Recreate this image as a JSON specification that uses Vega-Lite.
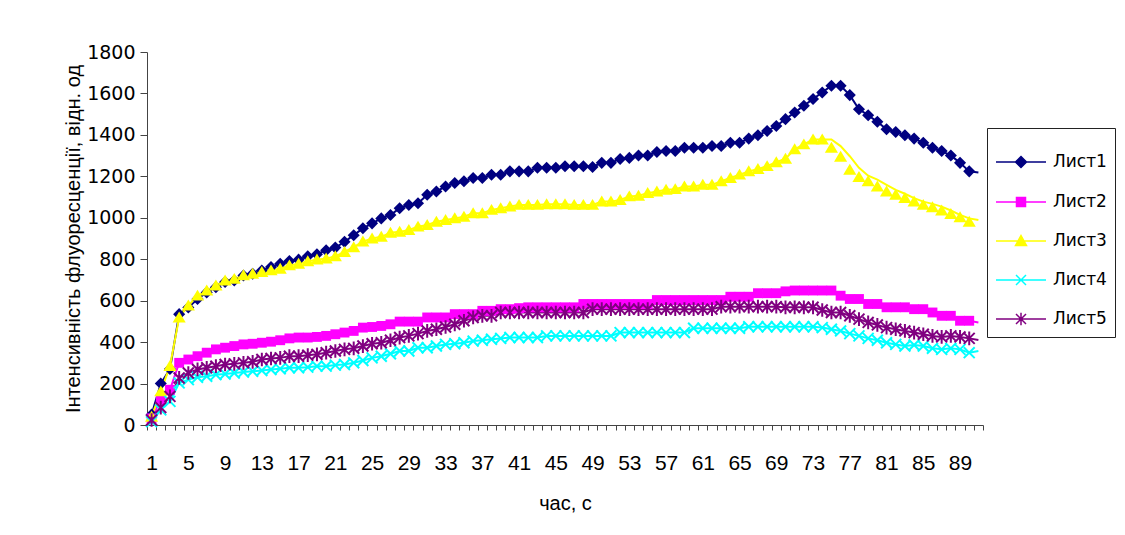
{
  "$schema": "https://vega.github.io/schema/vega-lite/v6.json",
  "width": 836,
  "height": 373,
  "autosize": {"type": "none"},
  "padding": {"left": 147, "top": 52, "right": 142, "bottom": 110},
  "background": "white",
  "config": {"view": {"stroke": null}, "font": "Liberation Sans"},
  "data": {"values": [
    {"t":1,"Лист1":50,"Лист2":32,"Лист3":40,"Лист4":16,"Лист5":24,"L3line":40},
    {"t":2,"Лист1":200,"Лист2":122,"Лист3":162,"Лист4":73,"Лист5":84,"L3line":162},
    {"t":3,"Лист1":270,"Лист2":170,"Лист3":284,"Лист4":114,"Лист5":138,"L3line":284},
    {"t":4,"Лист1":535,"Лист2":300,"Лист3":519,"Лист4":203,"Лист5":227,"L3line":519},
    {"t":5,"Лист1":567,"Лист2":316,"Лист3":576,"Лист4":219,"Лист5":251,"L3line":576},
    {"t":6,"Лист1":608,"Лист2":332,"Лист3":624,"Лист4":230,"Лист5":268,"L3line":624},
    {"t":7,"Лист1":640,"Лист2":349,"Лист3":649,"Лист4":235,"Лист5":276,"L3line":649},
    {"t":8,"Лист1":665,"Лист2":365,"Лист3":673,"Лист4":243,"Лист5":284,"L3line":673},
    {"t":9,"Лист1":690,"Лист2":373,"Лист3":697,"Лист4":246,"Лист5":292,"L3line":697},
    {"t":10,"Лист1":697,"Лист2":381,"Лист3":705,"Лист4":251,"Лист5":295,"L3line":705},
    {"t":11,"Лист1":721,"Лист2":389,"Лист3":722,"Лист4":256,"Лист5":300,"L3line":722},
    {"t":12,"Лист1":730,"Лист2":392,"Лист3":730,"Лист4":259,"Лист5":305,"L3line":730},
    {"t":13,"Лист1":746,"Лист2":397,"Лист3":738,"Лист4":263,"Лист5":316,"L3line":738},
    {"t":14,"Лист1":762,"Лист2":402,"Лист3":746,"Лист4":268,"Лист5":321,"L3line":746},
    {"t":15,"Лист1":778,"Лист2":409,"Лист3":754,"Лист4":271,"Лист5":324,"L3line":754},
    {"t":16,"Лист1":791,"Лист2":418,"Лист3":770,"Лист4":276,"Лист5":332,"L3line":770},
    {"t":17,"Лист1":798,"Лист2":422,"Лист3":778,"Лист4":276,"Лист5":332,"L3line":778},
    {"t":18,"Лист1":814,"Лист2":422,"Лист3":790,"Лист4":279,"Лист5":337,"L3line":790},
    {"t":19,"Лист1":824,"Лист2":425,"Лист3":798,"Лист4":284,"Лист5":341,"L3line":798},
    {"t":20,"Лист1":843,"Лист2":430,"Лист3":803,"Лист4":284,"Лист5":349,"L3line":803},
    {"t":21,"Лист1":856,"Лист2":438,"Лист3":814,"Лист4":289,"Лист5":357,"L3line":814},
    {"t":22,"Лист1":884,"Лист2":446,"Лист3":835,"Лист4":292,"Лист5":365,"L3line":835},
    {"t":23,"Лист1":916,"Лист2":454,"Лист3":858,"Лист4":300,"Лист5":370,"L3line":858},
    {"t":24,"Лист1":949,"Лист2":470,"Лист3":885,"Лист4":311,"Лист5":381,"L3line":885},
    {"t":25,"Лист1":973,"Лист2":473,"Лист3":900,"Лист4":324,"Лист5":392,"L3line":900},
    {"t":26,"Лист1":997,"Лист2":478,"Лист3":908,"Лист4":332,"Лист5":397,"L3line":908},
    {"t":27,"Лист1":1013,"Лист2":486,"Лист3":928,"Лист4":344,"Лист5":409,"L3line":928},
    {"t":28,"Лист1":1046,"Лист2":499,"Лист3":932,"Лист4":357,"Лист5":422,"L3line":932},
    {"t":29,"Лист1":1062,"Лист2":499,"Лист3":941,"Лист4":357,"Лист5":430,"L3line":941},
    {"t":30,"Лист1":1070,"Лист2":499,"Лист3":957,"Лист4":373,"Лист5":441,"L3line":957},
    {"t":31,"Лист1":1111,"Лист2":519,"Лист3":965,"Лист4":373,"Лист5":454,"L3line":965},
    {"t":32,"Лист1":1127,"Лист2":519,"Лист3":981,"Лист4":381,"Лист5":462,"L3line":981},
    {"t":33,"Лист1":1151,"Лист2":519,"Лист3":989,"Лист4":389,"Лист5":473,"L3line":989},
    {"t":34,"Лист1":1168,"Лист2":535,"Лист3":997,"Лист4":392,"Лист5":486,"L3line":997},
    {"t":35,"Лист1":1176,"Лист2":535,"Лист3":1005,"Лист4":397,"Лист5":503,"L3line":1005},
    {"t":36,"Лист1":1192,"Лист2":535,"Лист3":1022,"Лист4":405,"Лист5":519,"L3line":1022},
    {"t":37,"Лист1":1192,"Лист2":551,"Лист3":1022,"Лист4":409,"Лист5":527,"L3line":1022},
    {"t":38,"Лист1":1208,"Лист2":551,"Лист3":1038,"Лист4":414,"Лист5":527,"L3line":1038},
    {"t":39,"Лист1":1208,"Лист2":559,"Лист3":1046,"Лист4":418,"Лист5":543,"L3line":1046},
    {"t":40,"Лист1":1224,"Лист2":559,"Лист3":1054,"Лист4":422,"Лист5":543,"L3line":1054},
    {"t":41,"Лист1":1224,"Лист2":564,"Лист3":1062,"Лист4":422,"Лист5":543,"L3line":1062},
    {"t":42,"Лист1":1224,"Лист2":568,"Лист3":1062,"Лист4":422,"Лист5":543,"L3line":1062},
    {"t":43,"Лист1":1241,"Лист2":568,"Лист3":1062,"Лист4":422,"Лист5":543,"L3line":1062},
    {"t":44,"Лист1":1241,"Лист2":568,"Лист3":1065,"Лист4":430,"Лист5":543,"L3line":1065},
    {"t":45,"Лист1":1241,"Лист2":568,"Лист3":1065,"Лист4":430,"Лист5":543,"L3line":1065},
    {"t":46,"Лист1":1249,"Лист2":568,"Лист3":1065,"Лист4":430,"Лист5":543,"L3line":1065},
    {"t":47,"Лист1":1249,"Лист2":568,"Лист3":1062,"Лист4":430,"Лист5":543,"L3line":1062},
    {"t":48,"Лист1":1249,"Лист2":584,"Лист3":1062,"Лист4":430,"Лист5":543,"L3line":1062},
    {"t":49,"Лист1":1245,"Лист2":584,"Лист3":1062,"Лист4":430,"Лист5":559,"L3line":1062},
    {"t":50,"Лист1":1265,"Лист2":584,"Лист3":1078,"Лист4":430,"Лист5":559,"L3line":1078},
    {"t":51,"Лист1":1265,"Лист2":584,"Лист3":1078,"Лист4":430,"Лист5":559,"L3line":1078},
    {"t":52,"Лист1":1284,"Лист2":584,"Лист3":1086,"Лист4":446,"Лист5":559,"L3line":1086},
    {"t":53,"Лист1":1289,"Лист2":584,"Лист3":1103,"Лист4":446,"Лист5":559,"L3line":1103},
    {"t":54,"Лист1":1301,"Лист2":584,"Лист3":1106,"Лист4":446,"Лист5":559,"L3line":1106},
    {"t":55,"Лист1":1301,"Лист2":584,"Лист3":1119,"Лист4":446,"Лист5":559,"L3line":1119},
    {"t":56,"Лист1":1317,"Лист2":603,"Лист3":1127,"Лист4":446,"Лист5":559,"L3line":1127},
    {"t":57,"Лист1":1322,"Лист2":603,"Лист3":1135,"Лист4":446,"Лист5":559,"L3line":1135},
    {"t":58,"Лист1":1322,"Лист2":603,"Лист3":1138,"Лист4":446,"Лист5":559,"L3line":1138},
    {"t":59,"Лист1":1338,"Лист2":603,"Лист3":1151,"Лист4":446,"Лист5":559,"L3line":1151},
    {"t":60,"Лист1":1338,"Лист2":603,"Лист3":1151,"Лист4":467,"Лист5":559,"L3line":1151},
    {"t":61,"Лист1":1338,"Лист2":603,"Лист3":1159,"Лист4":467,"Лист5":559,"L3line":1159},
    {"t":62,"Лист1":1346,"Лист2":603,"Лист3":1159,"Лист4":467,"Лист5":559,"L3line":1159},
    {"t":63,"Лист1":1346,"Лист2":603,"Лист3":1176,"Лист4":467,"Лист5":571,"L3line":1176},
    {"t":64,"Лист1":1362,"Лист2":619,"Лист3":1192,"Лист4":467,"Лист5":571,"L3line":1192},
    {"t":65,"Лист1":1362,"Лист2":619,"Лист3":1208,"Лист4":467,"Лист5":571,"L3line":1208},
    {"t":66,"Лист1":1382,"Лист2":619,"Лист3":1224,"Лист4":474,"Лист5":571,"L3line":1224},
    {"t":67,"Лист1":1398,"Лист2":636,"Лист3":1235,"Лист4":474,"Лист5":571,"L3line":1235},
    {"t":68,"Лист1":1419,"Лист2":636,"Лист3":1249,"Лист4":474,"Лист5":571,"L3line":1249},
    {"t":69,"Лист1":1443,"Лист2":636,"Лист3":1268,"Лист4":474,"Лист5":571,"L3line":1268},
    {"t":70,"Лист1":1476,"Лист2":645,"Лист3":1285,"Лист4":474,"Лист5":568,"L3line":1285},
    {"t":71,"Лист1":1508,"Лист2":649,"Лист3":1330,"Лист4":474,"Лист5":568,"L3line":1330},
    {"t":72,"Лист1":1541,"Лист2":649,"Лист3":1354,"Лист4":474,"Лист5":568,"L3line":1354},
    {"t":73,"Лист1":1573,"Лист2":649,"Лист3":1378,"Лист4":474,"Лист5":568,"L3line":1378},
    {"t":74,"Лист1":1605,"Лист2":649,"Лист3":1378,"Лист4":470,"Лист5":555,"L3line":1378},
    {"t":75,"Лист1":1637,"Лист2":649,"Лист3":1338,"Лист4":462,"Лист5":543,"L3line":1378},
    {"t":76,"Лист1":1637,"Лист2":624,"Лист3":1294,"Лист4":454,"Лист5":543,"L3line":1346},
    {"t":77,"Лист1":1592,"Лист2":608,"Лист3":1232,"Лист4":441,"Лист5":527,"L3line":1297},
    {"t":78,"Лист1":1524,"Лист2":608,"Лист3":1197,"Лист4":430,"Лист5":511,"L3line":1241},
    {"t":79,"Лист1":1495,"Лист2":584,"Лист3":1176,"Лист4":418,"Лист5":495,"L3line":1203},
    {"t":80,"Лист1":1463,"Лист2":584,"Лист3":1151,"Лист4":409,"Лист5":483,"L3line":1184},
    {"t":81,"Лист1":1427,"Лист2":568,"Лист3":1127,"Лист4":397,"Лист5":470,"L3line":1159},
    {"t":82,"Лист1":1414,"Лист2":568,"Лист3":1111,"Лист4":389,"Лист5":462,"L3line":1135},
    {"t":83,"Лист1":1398,"Лист2":568,"Лист3":1095,"Лист4":381,"Лист5":454,"L3line":1116},
    {"t":84,"Лист1":1382,"Лист2":559,"Лист3":1078,"Лист4":386,"Лист5":446,"L3line":1095},
    {"t":85,"Лист1":1362,"Лист2":559,"Лист3":1062,"Лист4":381,"Лист5":438,"L3line":1078},
    {"t":86,"Лист1":1338,"Лист2":543,"Лист3":1051,"Лист4":370,"Лист5":430,"L3line":1067},
    {"t":87,"Лист1":1322,"Лист2":527,"Лист3":1035,"Лист4":365,"Лист5":425,"L3line":1054},
    {"t":88,"Лист1":1301,"Лист2":527,"Лист3":1018,"Лист4":370,"Лист5":430,"L3line":1035},
    {"t":89,"Лист1":1265,"Лист2":503,"Лист3":1002,"Лист4":365,"Лист5":425,"L3line":1014},
    {"t":90,"Лист1":1224,"Лист2":503,"Лист3":981,"Лист4":349,"Лист5":418,"L3line":997},
    {"t":91,"Лист1":1219,"Лист2":495,"Лист3":989,"Лист4":357,"Лист5":410,"L3line":989}
  ]},
  "encoding": {
    "x": {
      "field": "t", "type": "quantitative",
      "scale": {"domain": [0.5, 91.5], "nice": false, "zero": false},
      "axis": {
        "values": [0.5,1.5,2.5,3.5,4.5,5.5,6.5,7.5,8.5,9.5,10.5,11.5,12.5,13.5,14.5,15.5,16.5,17.5,18.5,19.5,20.5,21.5,22.5,23.5,24.5,25.5,26.5,27.5,28.5,29.5,30.5,31.5,32.5,33.5,34.5,35.5,36.5,37.5,38.5,39.5,40.5,41.5,42.5,43.5,44.5,45.5,46.5,47.5,48.5,49.5,50.5,51.5,52.5,53.5,54.5,55.5,56.5,57.5,58.5,59.5,60.5,61.5,62.5,63.5,64.5,65.5,66.5,67.5,68.5,69.5,70.5,71.5,72.5,73.5,74.5,75.5,76.5,77.5,78.5,79.5,80.5,81.5,82.5,83.5,84.5,85.5,86.5,87.5,88.5,89.5,90.5,91.5,1,5,9,13,17,21,25,29,33,37,41,45,49,53,57,61,65,69,73,77,81,85,89],
        "labelExpr": "datum.value % 4 === 1 ? format(datum.value, 'd') : ''",
        "tickOpacity": {"condition": {"test": "datum.value % 1 === 0", "value": 0}, "value": 1},
        "labelOverlap": false, "labelBound": false, "labelFlush": false,
        "grid": false, "tickSize": 5, "tickColor": "#444", "domainColor": "#444",
        "labelPadding": 22, "labelFont": "Liberation Sans Narrow, Liberation Sans", "labelFontSize": 21, "labelColor": "#000",
        "title": "час, с", "titleFont": "Liberation Sans Narrow, Liberation Sans", "titleFontSize": 20, "titleFontWeight": "normal", "titleColor": "#000", "titlePadding": 20
      }
    },
    "y": {
      "field": "v", "type": "quantitative",
      "scale": {"domain": [0, 1800], "nice": false, "zero": true},
      "axis": {
        "values": [0,200,400,600,800,1000,1200,1400,1600,1800],
        "format": "d",
        "grid": false, "tickSize": 7, "tickColor": "#444", "domainColor": "#444",
        "labelFont": "DejaVu Sans", "labelFontSize": 19, "labelColor": "#000", "labelPadding": 5,
        "title": "Інтенсивність флуоресценції, відн. од", "titleFont": "Liberation Sans", "titleFontSize": 20, "titleFontWeight": "normal", "titleColor": "#000", "titlePadding": 3
      }
    }
  },
  "layer": [
    {
      "transform": [{"fold": ["Лист1", "Лист2", "Лист4", "Лист5"], "as": ["s", "v"]}],
      "mark": {"type": "line", "strokeWidth": 2},
      "encoding": {
        "color": {
          "field": "s", "type": "nominal",
          "scale": {"domain": ["Лист1", "Лист2", "Лист3", "Лист4", "Лист5"], "range": ["#000080", "#FF00FF", "#FFFF00", "#00FFFF", "#800080"]},
          "legend": {
            "title": null, "orient": "none", "legendX": 840, "legendY": 76,
            "strokeColor": "#222", "fillColor": "white", "padding": 8,
            "symbolSize": 2500, "symbolStrokeWidth": 1.5,
            "labelFont": "DejaVu Sans", "labelFontSize": 17, "labelColor": "#000", "labelOffset": 6, "rowPadding": 5,
            "encode": {
              "symbols": {
                "update": {
                  "shape": {"signal": "datum.value === 'Лист1' ? 'M-1,0H1M-0.22,0L0,-0.22L0.22,0L0,0.22Z' : datum.value === 'Лист2' ? 'M-1,0H1M-0.18,-0.18H0.18V0.18H-0.18Z' : datum.value === 'Лист3' ? 'M-1,0H1M0,-0.22L0.22,0.18L-0.22,0.18Z' : datum.value === 'Лист4' ? 'M-1,0H1M-0.2,-0.2L0.2,0.2M-0.2,0.2L0.2,-0.2' : 'M-1,0H1M-0.2,-0.2L0.2,0.2M-0.2,0.2L0.2,-0.2M0,-0.25V0.25'"},
                  "fill": {"scale": "color", "field": "value"},
                  "stroke": {"scale": "color", "field": "value"},
                  "strokeWidth": {"value": 1.5},
                  "opacity": {"value": 1}
                }
              }
            }
          }
        }
      }
    },
    {
      "transform": [{"fold": ["L3line"], "as": ["k", "v"]}],
      "mark": {"type": "line", "strokeWidth": 2},
      "encoding": {"color": {"datum": "Лист3", "type": "nominal", "legend": null}}
    },
    {
      "transform": [{"filter": "datum.t <= 90"}, {"fold": ["Лист1"], "as": ["p", "v"]}],
      "mark": {"type": "point", "filled": true, "size": 120, "opacity": 1, "shape": "M-1.1,0L0,-1.1L1.1,0L0,1.1Z"},
      "encoding": {"color": {"field": "p", "type": "nominal", "legend": null}}
    },
    {
      "transform": [{"filter": "datum.t <= 90"}, {"fold": ["Лист2"], "as": ["p", "v"]}],
      "mark": {"type": "point", "filled": true, "size": 120, "opacity": 1, "shape": "M-0.9,-0.9H0.9V0.9H-0.9Z"},
      "encoding": {"color": {"field": "p", "type": "nominal", "legend": null}}
    },
    {
      "transform": [{"filter": "datum.t <= 90"}, {"fold": ["Лист3"], "as": ["p", "v"]}],
      "mark": {"type": "point", "filled": true, "size": 120, "opacity": 1, "shape": "M0,-1.1L1.2,0.9L-1.2,0.9Z"},
      "encoding": {"color": {"field": "p", "type": "nominal", "legend": null}}
    },
    {
      "transform": [{"filter": "datum.t <= 90"}, {"fold": ["Лист4"], "as": ["p", "v"]}],
      "mark": {"type": "point", "filled": false, "size": 120, "strokeWidth": 2, "opacity": 1, "shape": "M-1,-1L1,1M-1,1L1,-1"},
      "encoding": {"color": {"field": "p", "type": "nominal", "legend": null}}
    },
    {
      "transform": [{"filter": "datum.t <= 90"}, {"fold": ["Лист5"], "as": ["p", "v"]}],
      "mark": {"type": "point", "filled": false, "size": 120, "strokeWidth": 2, "opacity": 1, "shape": "M-1,-1L1,1M-1,1L1,-1M0,-1.25V1.25"},
      "encoding": {"color": {"field": "p", "type": "nominal", "legend": null}}
    }
  ]
}
